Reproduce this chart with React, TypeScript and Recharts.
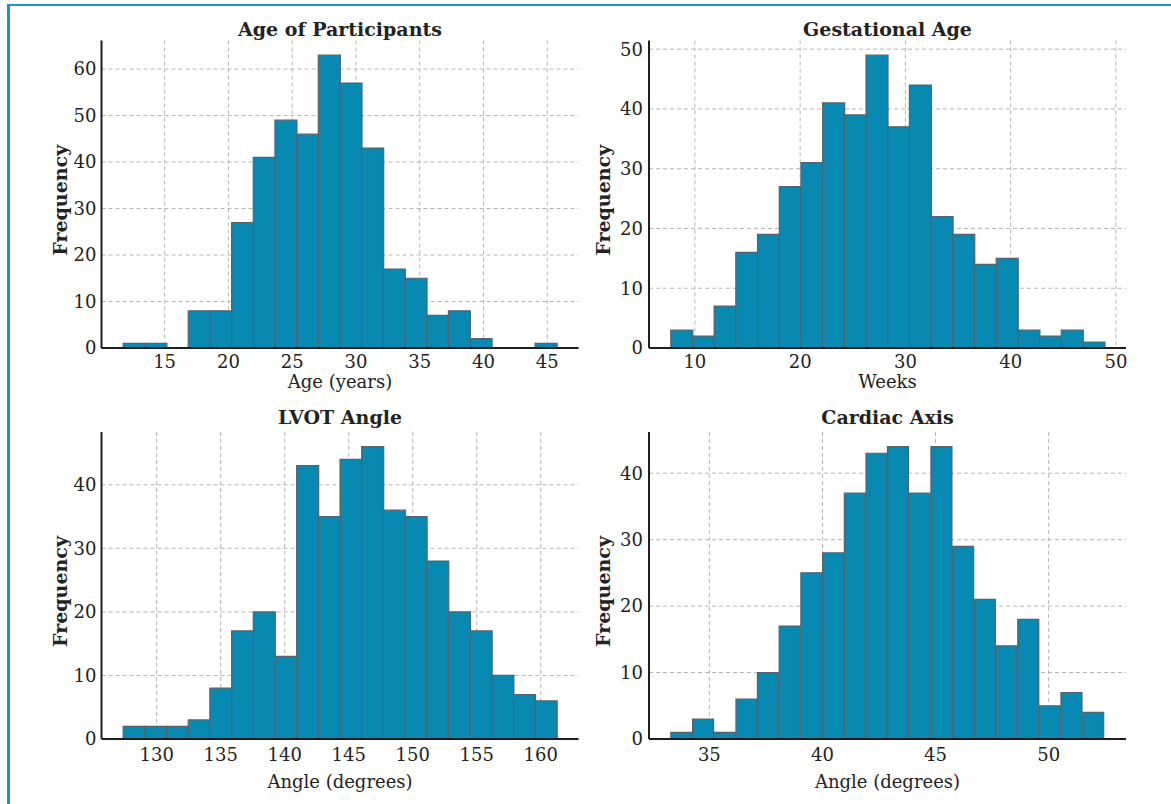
import React from 'react';
import { BarChart, Bar, XAxis, YAxis, CartesianGrid } from 'recharts';

// ---------- data ----------
const ageBins = [12.6, 14.3, 16.0, 17.7, 19.4, 21.1, 22.8, 24.5, 26.2, 27.9, 29.6, 31.3, 33.0, 34.7, 36.4, 38.1, 39.8, 41.5, 43.2, 44.9];
const ageCounts = [1, 1, 0, 8, 8, 27, 41, 49, 46, 63, 57, 43, 17, 15, 7, 8, 2, 0, 0, 1];
const ageXTicks = [15, 20, 25, 30, 35, 40, 45];
const ageYTicks = [0, 10, 20, 30, 40, 50, 60];

const gestBins = [8.74, 10.8, 12.86, 14.92, 16.98, 19.05, 21.11, 23.17, 25.23, 27.29, 29.35, 31.41, 33.47, 35.53, 37.59, 39.66, 41.72, 43.78, 45.84, 47.9];
const gestCounts = [3, 2, 7, 16, 19, 27, 31, 41, 39, 49, 37, 44, 22, 19, 14, 15, 3, 2, 3, 1];
const gestXTicks = [10, 20, 30, 40, 50];
const gestYTicks = [0, 10, 20, 30, 40, 50];

const lvotBins = [128.23, 129.92, 131.62, 133.31, 135.0, 136.7, 138.39, 140.09, 141.78, 143.47, 145.17, 146.86, 148.56, 150.25, 151.94, 153.64, 155.33, 157.03, 158.72, 160.41];
const lvotCounts = [2, 2, 2, 3, 8, 17, 20, 13, 43, 35, 44, 46, 36, 35, 28, 20, 17, 10, 7, 6];
const lvotXTicks = [130, 135, 140, 145, 150, 155, 160];
const lvotYTicks = [0, 10, 20, 30, 40];

const cardBins = [33.77, 34.73, 35.69, 36.65, 37.6, 38.56, 39.52, 40.48, 41.44, 42.4, 43.35, 44.31, 45.27, 46.23, 47.19, 48.15, 49.11, 50.06, 51.02, 51.98];
const cardCounts = [1, 3, 1, 6, 10, 17, 25, 28, 37, 43, 44, 37, 44, 29, 21, 14, 18, 5, 7, 4];
const cardXTicks = [35, 40, 45, 50];
const cardYTicks = [0, 10, 20, 30, 40];

// ---------- style ----------
const FONT = '"DejaVu Serif", "Liberation Serif", serif';
const BAR_FILL = '#0789b2';
const BAR_EDGE = '#56626a';
const AXIS = '#1e1e1e';
const GRID = '#b4b4b4';
const TEXT = '#222222';
const FRAME = '#1a94c3';

type PanelProps = {
  title: string;
  xLabel: string;
  bins: number[];
  counts: number[];
  xTicks: number[];
  yTicks: number[];
  xDomain: [number, number];
  yDomain: [number, number];
  left: number;
  top: number;
  width: number;
  height: number;
  marginTop: number;
  marginRight: number;
  yAxisWidth: number;
  xAxisHeight: number;
  xTickMargin: number;
  yTickMargin: number;
  yLabelOffset: number;
  xLabelBaseline: number;
  titleBaseline: number;
};

function Panel(p: PanelProps) {
  const data = p.bins.map((x, i) => ({ x, count: p.counts[i] }));
  const plotLeft = p.yAxisWidth;
  const plotRight = p.width - p.marginRight;
  const titleX = (plotLeft + plotRight) / 2;

  const yLabel = (props: any) => {
    const vb = props.viewBox || {};
    const cx = vb.x + vb.width - p.yLabelOffset;
    const cy = vb.y + vb.height / 2 + 6;
    return (
      <text
        x={cx}
        y={cy}
        transform={`rotate(-90, ${cx}, ${cy})`}
        textAnchor="middle"
        dominantBaseline="central"
        fontFamily={FONT}
        fontWeight="bold"
        fontSize={19}
        fill={TEXT}
      >
        Frequency
      </text>
    );
  };

  const xLabel = (props: any) => {
    const vb = props.viewBox || {};
    return (
      <text
        x={vb.x + vb.width / 2}
        y={vb.y + p.xLabelBaseline}
        textAnchor="middle"
        fontFamily={FONT}
        fontSize={18}
        fill={TEXT}
      >
        {p.xLabel}
      </text>
    );
  };

  return (
    <div style={{ position: 'absolute', left: p.left, top: p.top, width: p.width, height: p.height }}>
      <BarChart
        width={p.width}
        height={p.height}
        data={data}
        margin={{ top: p.marginTop, right: p.marginRight, bottom: 0, left: 0 }}
        barCategoryGap={0}
        barGap={0}
      >
        <CartesianGrid stroke={GRID} strokeDasharray="4 3" strokeWidth={1} syncWithTicks />
        <Bar dataKey="count" fill={BAR_FILL} stroke={BAR_EDGE} strokeWidth={1.2} isAnimationActive={false} />
        <XAxis
          type="number"
          dataKey="x"
          domain={p.xDomain}
          ticks={p.xTicks}
          interval={0}
          tickLine={false}
          tickSize={0}
          tickMargin={p.xTickMargin}
          height={p.xAxisHeight}
          axisLine={{ stroke: AXIS, strokeWidth: 2 }}
          tick={{ fill: TEXT, fontSize: 18, fontFamily: FONT }}
          label={xLabel}
        />
        <YAxis
          type="number"
          domain={p.yDomain}
          ticks={p.yTicks}
          interval={0}
          tickLine={false}
          tickSize={0}
          tickMargin={p.yTickMargin}
          width={p.yAxisWidth}
          axisLine={{ stroke: AXIS, strokeWidth: 2 }}
          tick={{ fill: TEXT, fontSize: 18, fontFamily: FONT }}
          label={yLabel}
        />
      </BarChart>
      <svg
        width={p.width}
        height={p.height}
        style={{ position: 'absolute', left: 0, top: 0, pointerEvents: 'none' }}
      >
        <text
          x={titleX}
          y={p.titleBaseline}
          textAnchor="middle"
          fontFamily={FONT}
          fontWeight="bold"
          fontSize={19}
          fill={TEXT}
        >
          {p.title}
        </text>
      </svg>
    </div>
  );
}

const row1 = { top: 0, height: 400, marginTop: 40.5, xAxisHeight: 52, xTickMargin: 7, xLabelBaseline: 39.5, titleBaseline: 36 };
const row2 = { top: 400, height: 404, marginTop: 32, xAxisHeight: 65, xTickMargin: 9, xLabelBaseline: 49, titleBaseline: 24 };
const col1 = { left: 0, width: 590, marginRight: 11.5, yAxisWidth: 101.5, yTickMargin: 5, yLabelOffset: 41.5 };
const col2 = { left: 590, width: 581, marginRight: 45, yAxisWidth: 59, yTickMargin: 6, yLabelOffset: 46.5 };

export default function App() {
  return (
    <div style={{ position: 'absolute', left: 0, top: 0, width: 1171, height: 804, background: '#ffffff', overflow: 'hidden' }}>
      <div style={{ position: 'absolute', left: 7, top: 4, width: 1164, height: 2, background: FRAME }} />
      <div style={{ position: 'absolute', left: 7, top: 4, width: 2.5, height: 800, background: FRAME }} />
      <Panel
        {...row1}
        {...col1}
        title="Age of Participants"
        xLabel="Age (years)"
        bins={ageBins}
        counts={ageCounts}
        xTicks={ageXTicks}
        yTicks={ageYTicks}
        xDomain={[10.05, 47.45]}
        yDomain={[0, 66.15]}
      />
      <Panel
        {...row1}
        {...col2}
        title="Gestational Age"
        xLabel="Weeks"
        bins={gestBins}
        counts={gestCounts}
        xTicks={gestXTicks}
        yTicks={gestYTicks}
        xDomain={[5.64, 50.96]}
        yDomain={[0, 51.45]}
      />
      <Panel
        {...row2}
        {...col1}
        title="LVOT Angle"
        xLabel="Angle (degrees)"
        bins={lvotBins}
        counts={lvotCounts}
        xTicks={lvotXTicks}
        yTicks={lvotYTicks}
        xDomain={[125.69, 162.95]}
        yDomain={[0, 48.3]}
      />
      <Panel
        {...row2}
        {...col2}
        title="Cardiac Axis"
        xLabel="Angle (degrees)"
        bins={cardBins}
        counts={cardCounts}
        xTicks={cardXTicks}
        yTicks={cardYTicks}
        xDomain={[32.33, 53.42]}
        yDomain={[0, 46.2]}
      />
    </div>
  );
}
